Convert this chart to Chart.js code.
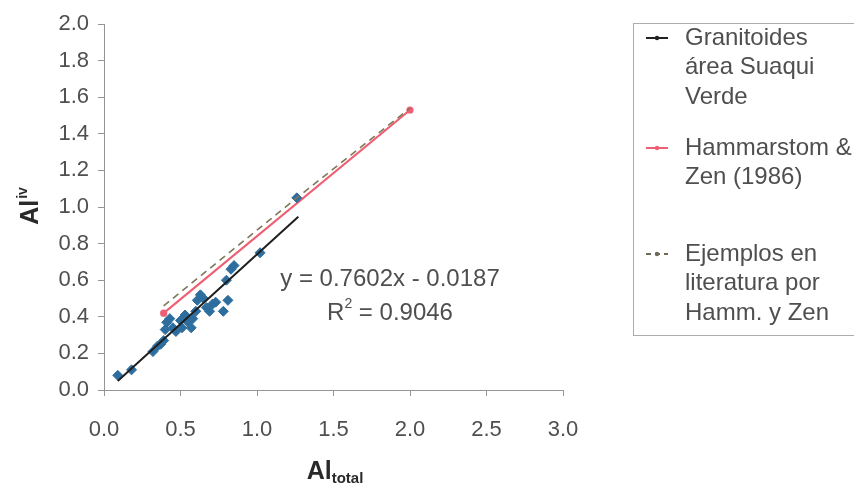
<!DOCTYPE html>
<html>
<head>
<meta charset="utf-8">
<script src="https://cdn.jsdelivr.net/npm/chart.js@4.4.1/dist/chart.umd.min.js"></script>
<style>
  html, body { margin: 0; padding: 0; background: #ffffff; }
  #wrap { width: 854px; height: 484px; }
</style>
</head>
<body>
<div id="wrap"><canvas id="c" width="854" height="484"></canvas></div>
<script>
// Al total vs Al iv in granitoid amphiboles
const granitoidX = [0.09, 0.18, 0.32, 0.35, 0.37, 0.39, 0.40, 0.41, 0.43, 0.45, 0.47, 0.50, 0.51, 0.53, 0.55,
                    0.57, 0.58, 0.60, 0.61, 0.63, 0.65, 0.67, 0.69, 0.71, 0.73, 0.78, 0.81, 0.80, 0.83, 0.85, 1.02, 1.26];
const granitoidY = [0.08, 0.11, 0.21, 0.24, 0.25, 0.27, 0.33, 0.37, 0.39, 0.34, 0.32, 0.38, 0.34, 0.41, 0.37,
                    0.34, 0.39, 0.43, 0.49, 0.52, 0.50, 0.45, 0.43, 0.47, 0.48, 0.43, 0.49, 0.60, 0.66, 0.68, 0.75, 1.05];

// Linear fit reported on the chart
const fitSlope = 0.7602;
const fitIntercept = -0.0187;
const fitR2 = 0.9046;
const fitRange = [0.09, 1.27];

// Hammarstrom & Zen (1986) reference line
const hzX = [0.39, 2.0];
const hzY = [0.42, 1.53];

// Literature examples
const litX = [0.39, 1.26, 2.0];
const litY = [0.46, 1.05, 1.54];

const xTickValues = [0.0, 0.5, 1.0, 1.5, 2.0, 2.5, 3.0];
const yTickValues = [0.0, 0.2, 0.4, 0.6, 0.8, 1.0, 1.2, 1.4, 1.6, 1.8, 2.0];

const legendItems = [
  { lines: ['Granitoides', 'área Suaqui', 'Verde'], color: '#222222', dash: [], marker: true },
  { lines: ['Hammarstom &', 'Zen (1986)'], color: '#ee5f73', dash: [], marker: true },
  { lines: ['Ejemplos en', 'literatura por', 'Hamm. y Zen'], color: '#6d6a55', dash: [5, 4], marker: true }
];

const toPoints = (xs, ys) => xs.map((x, i) => ({ x: x, y: ys[i] }));
const fitPoints = fitRange.map(x => ({ x: x, y: fitSlope * x + fitIntercept }));

const FONT = '"Liberation Sans", Arial, sans-serif';
const TEXT = '#4f4f4f';
const AXIS = '#959595';

const overlay = {
  id: 'overlay',
  afterDraw(chart) {
    const ctx = chart.ctx;
    ctx.save();
    ctx.fillStyle = '#2a2a2a';
    ctx.textBaseline = 'alphabetic';

    // Y title: Al with superscript iv, rotated
    ctx.save();
    ctx.translate(38, 206);
    ctx.rotate(-Math.PI / 2);
    ctx.font = 'bold 25px ' + FONT;
    const wAl = ctx.measureText('Al').width;
    ctx.font = 'bold 14px ' + FONT;
    const wIv = ctx.measureText('iv').width;
    const start = -(wAl + wIv + 1) / 2;
    ctx.font = 'bold 25px ' + FONT;
    ctx.textAlign = 'left';
    ctx.fillText('Al', start, 0);
    ctx.font = 'bold 14px ' + FONT;
    ctx.fillText('iv', start + wAl + 1, -11);
    ctx.restore();

    // X title: Al with subscript total
    ctx.font = 'bold 25px ' + FONT;
    const xAl = ctx.measureText('Al').width;
    ctx.font = 'bold 15px ' + FONT;
    const xSub = ctx.measureText('total').width;
    const xs = 335 - (xAl + xSub) / 2;
    ctx.textAlign = 'left';
    ctx.font = 'bold 25px ' + FONT;
    ctx.fillText('Al', xs, 479);
    ctx.font = 'bold 15px ' + FONT;
    ctx.fillText('total', xs + xAl, 483);

    // Fit equation and R²
    ctx.fillStyle = TEXT;
    ctx.font = '24px ' + FONT;
    ctx.textAlign = 'center';
    ctx.textBaseline = 'middle';
    const eq = 'y = ' + fitSlope.toFixed(4) + 'x - ' + Math.abs(fitIntercept).toFixed(4);
    ctx.fillText(eq, 390, 279);
    const rest = ' = ' + fitR2.toFixed(4);
    const wR = ctx.measureText('R').width;
    const wRest = ctx.measureText(rest).width;
    ctx.font = '14px ' + FONT;
    const wSup = ctx.measureText('2').width;
    let rx = 390 - (wR + wSup + wRest) / 2;
    ctx.textAlign = 'left';
    ctx.font = '24px ' + FONT;
    ctx.fillText('R', rx, 313);
    ctx.font = '14px ' + FONT;
    ctx.fillText('2', rx + wR, 304);
    ctx.font = '24px ' + FONT;
    ctx.fillText(rest, rx + wR + wSup, 313);

    // Legend box
    ctx.strokeStyle = '#acacac';
    ctx.lineWidth = 1;
    ctx.strokeRect(633.5, 23.5, 240, 312);
    const firstLines = [38, 148, 254];
    const lineGap = 29.5;
    ctx.font = '24px ' + FONT;
    legendItems.forEach((item, i) => {
      const y0 = firstLines[i];
      ctx.strokeStyle = item.color;
      ctx.lineWidth = 2;
      ctx.setLineDash(item.dash);
      ctx.beginPath();
      ctx.moveTo(646, y0);
      ctx.lineTo(668, y0);
      ctx.stroke();
      ctx.setLineDash([]);
      if (item.marker) {
        ctx.fillStyle = item.color;
        ctx.beginPath();
        ctx.arc(657, y0, 2.2, 0, Math.PI * 2);
        ctx.fill();
      }
      ctx.fillStyle = TEXT;
      ctx.textAlign = 'left';
      ctx.textBaseline = 'middle';
      item.lines.forEach((t, k) => ctx.fillText(t, 685, y0 + k * lineGap));
    });
    ctx.restore();
  }
};

new Chart(document.getElementById('c'), {
  type: 'scatter',
  data: {
    datasets: [
      {
        label: 'Ajuste lineal',
        data: fitPoints,
        showLine: true,
        borderColor: '#1e1e1e',
        borderWidth: 2,
        pointRadius: 0,
        order: 0
      },
      {
        label: 'Ejemplos en literatura por Hamm. y Zen',
        data: toPoints(litX, litY),
        showLine: true,
        borderColor: '#7d7858',
        borderWidth: 1.6,
        borderDash: [7, 5],
        pointRadius: 0,
        order: 1
      },
      {
        label: 'Granitoides área Suaqui Verde',
        data: toPoints(granitoidX, granitoidY),
        showLine: false,
        pointStyle: 'rectRot',
        pointRadius: 5,
        backgroundColor: '#2e6e9e',
        borderColor: '#2e6e9e',
        borderWidth: 1,
        order: 2
      },
      {
        label: 'Hammarstom & Zen (1986)',
        data: toPoints(hzX, hzY),
        showLine: true,
        borderColor: '#ee5f73',
        borderWidth: 2.2,
        pointRadius: 2.5,
        backgroundColor: '#ee5f73',
        pointBorderColor: '#ee5f73',
        order: 3
      }
    ]
  },
  options: {
    responsive: false,
    devicePixelRatio: 1,
    animation: false,
    layout: { padding: { top: 24, right: 291, left: 0, bottom: 0 } },
    plugins: { legend: { display: false }, tooltip: { enabled: false } },
    scales: {
      x: {
        type: 'linear',
        min: 0, max: 3,
        afterBuildTicks: s => { s.ticks = xTickValues.map(v => ({ value: v })); },
        afterFit: s => { s.height = 94; },
        border: { display: true, color: AXIS, width: 1 },
        grid: { display: true, drawOnChartArea: false, drawTicks: true, tickLength: 6, color: AXIS },
        ticks: {
          color: TEXT,
          font: { family: FONT, size: 22 },
          padding: 21,
          callback: v => Number(v).toFixed(1)
        }
      },
      y: {
        type: 'linear',
        min: 0, max: 2,
        afterBuildTicks: s => { s.ticks = yTickValues.map(v => ({ value: v })); },
        afterFit: s => { s.width = 104; },
        border: { display: true, color: AXIS, width: 1 },
        grid: { display: true, drawOnChartArea: false, drawTicks: true, tickLength: 6, color: AXIS },
        ticks: {
          color: TEXT,
          font: { family: FONT, size: 22 },
          padding: 9,
          callback: v => Number(v).toFixed(1)
        }
      }
    }
  },
  plugins: [overlay]
});
</script>
</body>
</html>
